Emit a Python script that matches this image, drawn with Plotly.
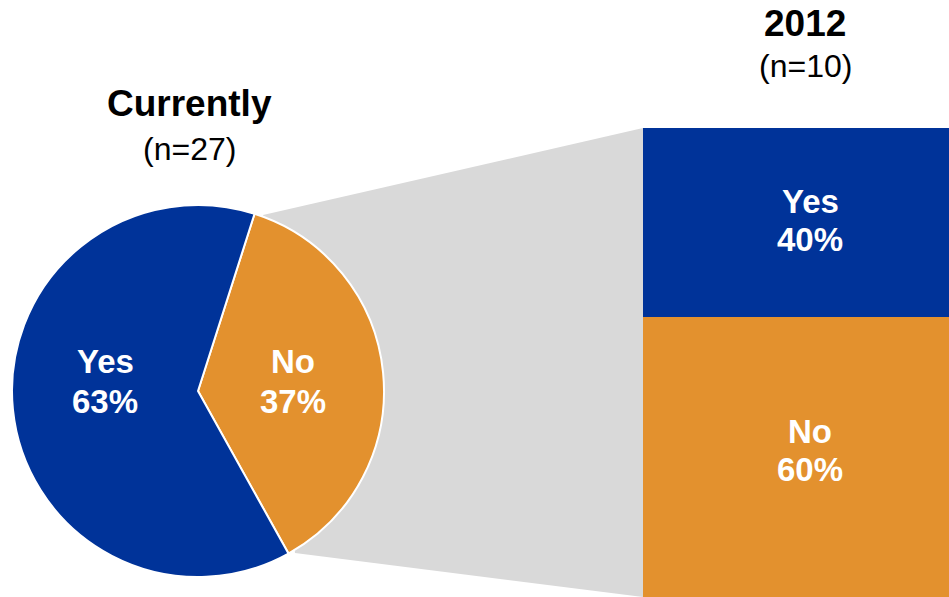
import plotly.graph_objects as go

# Survey answers: current sample vs. the 2012 sample
pie_labels = ["No", "Yes"]
pie_values = [37, 63]          # percent, n=27
bar_labels = ["No", "Yes"]
bar_values = [60, 40]          # percent, n=10

pie_title, pie_sub = "Currently", "(n=27)"
bar_title, bar_sub = "2012", "(n=10)"

BLUE = "#003399"
ORANGE = "#E3912E"
GREY = "#D9D9D9"
FONT = "Liberation Sans, Arial, sans-serif"

W, H = 949, 597
colors = {"Yes": BLUE, "No": ORANGE}


def px(x):
    return x / W


def py(y):
    return 1 - y / H


fig = go.Figure()

# Pie of current answers
fig.add_trace(go.Pie(
    labels=pie_labels,
    values=pie_values,
    sort=False,
    direction="clockwise",
    rotation=17.7,
    marker=dict(colors=[colors[l] for l in pie_labels],
                line=dict(color="white", width=2)),
    textinfo="none",
    hoverinfo="label+percent",
    showlegend=False,
    domain=dict(x=[px(12), px(384)], y=[py(577), py(205)]),
))

# Stacked column for 2012
for lab, val in zip(bar_labels, bar_values):
    fig.add_trace(go.Bar(
        x=[bar_title], y=[val],
        marker=dict(color=colors[lab], line=dict(width=0)),
        showlegend=False,
        hoverinfo="y",
    ))

# Grey connector from the "No" slice to the column
fig.add_shape(
    type="path", xref="paper", yref="paper", layer="below",
    path=(f"M {px(263)},{py(215)} L {px(643)},{py(128)} "
          f"L {px(643)},{py(597)} L {px(295)},{py(553)} Z"),
    fillcolor=GREY, line=dict(width=0),
)

# Slice and segment labels: (x centre, y of name line, y of percent line)
label_pos = {
    ("pie", "Yes"): (105, 361, 401), ("pie", "No"): (293, 361, 401),
    ("bar", "Yes"): (810, 201, 240), ("bar", "No"): (810, 431, 469),
}
for kind, labs, vals in [("pie", pie_labels, pie_values),
                         ("bar", bar_labels, bar_values)]:
    for lab, val in zip(labs, vals):
        x, y1, y2 = label_pos[(kind, lab)]
        for txt, yy in [(lab, y1), (f"{val}%", y2)]:
            fig.add_annotation(
                x=px(x), y=py(yy), xref="paper", yref="paper",
                text=f"<b>{txt}</b>", showarrow=False,
                font=dict(color="white", size=33, family=FONT),
                xanchor="center", yanchor="middle",
            )

# Titles
for text, x, y, size, bold in [
    (pie_title, 189, 104, 37, True),
    (pie_sub, 189, 149, 32, False),
    (bar_title, 805, 23, 37, True),
    (bar_sub, 805, 66, 32, False),
]:
    fig.add_annotation(
        x=px(x), y=py(y), xref="paper", yref="paper",
        text=f"<b>{text}</b>" if bold else text, showarrow=False,
        font=dict(color="black", size=size, family=FONT),
        xanchor="center", yanchor="middle",
    )

total = sum(bar_values)
unit = (317 - 128) / bar_values[-1]          # pixels per percent
y_top = total + 128 / unit
y_bottom = (600.5 - H) / unit

fig.update_layout(
    width=W, height=H,
    margin=dict(l=0, r=0, t=0, b=0),
    paper_bgcolor="white", plot_bgcolor="rgba(0,0,0,0)",
    barmode="stack", bargap=0,
    xaxis=dict(domain=[px(643), 1], visible=False, range=[-0.5, 0.5]),
    yaxis=dict(range=[y_bottom, y_top], visible=False),
    font=dict(family=FONT),
)

fig.write_html("out.html")
